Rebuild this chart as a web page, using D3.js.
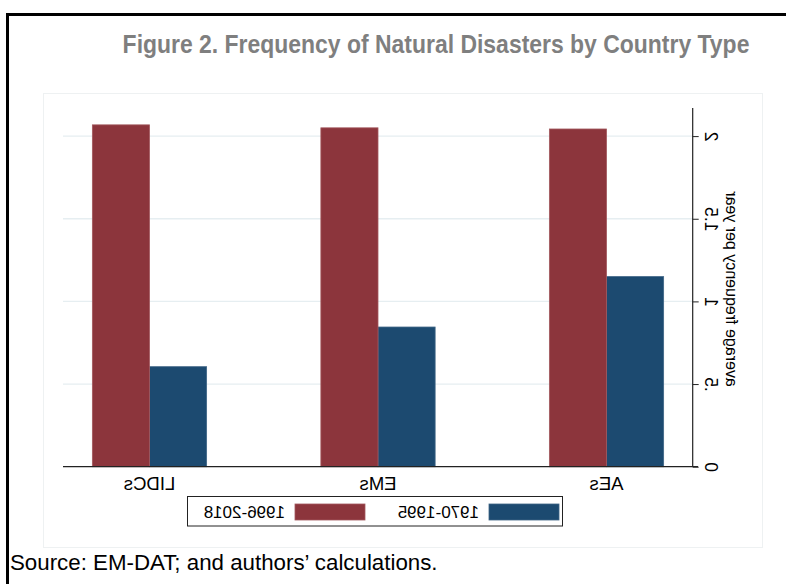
<!DOCTYPE html>
<html>
<head>
<meta charset="utf-8">
<script src="https://cdn.jsdelivr.net/npm/d3@7"></script>
<style>
  body { margin: 0; background: #fff; }
  text { font-family: Arial, "Liberation Sans", sans-serif; }
</style>
</head>
<body>
<svg id="chart" width="786" height="584"></svg>
<script>
// data
const countryTypes = ["AEs", "EMs", "LIDCs"];
const periods = ["1970-1995", "1996-2018"];
const early = [1.15, 0.845, 0.605];   // 1970-1995
const late = [2.043, 2.05, 2.068];    // 1996-2018
const yTicks = [0, 0.5, 1, 1.5, 2];
const yTickLabels = ["0", ".5", "1", "1.5", "2"];

const W = 786, H = 584;
const colors = { "1970-1995": "#1c4a70", "1996-2018": "#8c353c" };
const strokes = { "1970-1995": "#3f6586", "1996-2018": "#a2585e" };

const svg = d3.select("#chart");

// frame
svg.append("path")
  .attr("d", `M7.5,${H + 5} V14.5 H${W + 5}`)
  .attr("fill", "none").attr("stroke", "#000").attr("stroke-width", 3);

// title is a narrow bold face, so squeeze normal bold to the same width
const title = svg.append("text")
  .attr("text-anchor", "middle")
  .attr("font-size", 25.5).attr("font-weight", "bold")
  .attr("fill", "#7f7f7f")
  .text("Figure 2. Frequency of Natural Disasters by Country Type");
const tw = title.node().getComputedTextLength();
title.attr("transform", `translate(436,53) scale(${Math.min(1, 627 / tw)},1)`);

svg.append("text")
  .attr("x", 10).attr("y", 570)
  .attr("font-size", 22.3).attr("fill", "#000")
  .text("Source: EM-DAT; and authors’ calculations.");

// the plot itself is a mirror image, so draw it normally and flip it
const g = svg.append("g").attr("transform", `translate(${W},0) scale(-1,1)`);

g.append("rect")
  .attr("x", 23.5).attr("y", 93.5).attr("width", 719).attr("height", 454)
  .attr("fill", "#fff").attr("stroke", "#eef1f2");

const x = d3.scaleBand().domain(countryTypes).range([93, 723])
  .paddingInner(0.5).paddingOuter(0.1285);
const xs = d3.scaleBand().domain(periods).range([0, x.bandwidth()]);
const y = d3.scaleLinear().domain([0, 2.17]).range([466.7, 108]);

// grid
g.append("g").selectAll("line").data(yTicks.slice(1)).join("line")
  .attr("x1", 93).attr("x2", 723)
  .attr("y1", d => y(d)).attr("y2", d => y(d))
  .attr("stroke", "#e6eef1").attr("stroke-width", 1.3);

// bars
const rows = countryTypes.map((c, i) => ({ c, vals: [
  { p: periods[0], v: early[i] }, { p: periods[1], v: late[i] }] }));

g.append("g").selectAll("g").data(rows).join("g")
  .attr("transform", d => `translate(${x(d.c)},0)`)
  .selectAll("rect").data(d => d.vals).join("rect")
  .attr("x", d => xs(d.p)).attr("width", xs.bandwidth())
  .attr("y", d => y(d.v)).attr("height", d => y(0) - y(d.v))
  .attr("fill", d => colors[d.p]).attr("stroke", d => strokes[d.p]).attr("stroke-width", 0.8);

// x baseline
g.append("line")
  .attr("x1", 88).attr("x2", 723).attr("y1", y(0)).attr("y2", y(0))
  .attr("stroke", "#222").attr("stroke-width", 1.2);

// category labels
g.append("g").selectAll("text").data(countryTypes).join("text")
  .attr("x", d => x(d) + x.bandwidth() / 2).attr("y", 490)
  .attr("text-anchor", "middle").attr("font-size", 18.5).attr("fill", "#000")
  .text(d => d);

// y axis
const yAxis = g.append("g").attr("transform", "translate(93.3,0)")
  .call(d3.axisLeft(y).tickValues(yTicks).tickSize(6)
    .tickFormat((d, i) => yTickLabels[i]));
yAxis.select(".domain").attr("d", `M0,${y(2.17)}V${y(0)}`).attr("stroke", "#222").attr("stroke-width", 1.2);
yAxis.selectAll(".tick line").attr("stroke", "#222");
yAxis.selectAll(".tick text")
  .attr("x", null).attr("dy", null)
  .attr("text-anchor", "middle")
  .attr("transform", "translate(-12,0) rotate(-90)")
  .attr("font-size", 17.5).attr("font-family", "Arial, 'Liberation Sans', sans-serif")
  .attr("fill", "#000");

g.append("text")
  .attr("transform", "translate(60,289) rotate(-90)")
  .attr("text-anchor", "middle").attr("font-size", 16).attr("fill", "#000")
  .text("average frequency per year");

// legend
const leg = g.append("g");
leg.append("rect")
  .attr("x", 223.5).attr("y", 496.5).attr("width", 375).attr("height", 29.5)
  .attr("fill", "#fff").attr("stroke", "#222");
const legX = { "1970-1995": 227, "1996-2018": 421 };
periods.forEach(p => {
  leg.append("rect").attr("x", legX[p]).attr("y", 504).attr("width", 70).attr("height", 16)
    .attr("fill", colors[p]).attr("stroke", strokes[p]).attr("stroke-width", 0.8);
  leg.append("text").attr("x", legX[p] + 80).attr("y", 518)
    .attr("font-size", 17).attr("fill", "#000").text(p);
});
</script>
</body>
</html>
